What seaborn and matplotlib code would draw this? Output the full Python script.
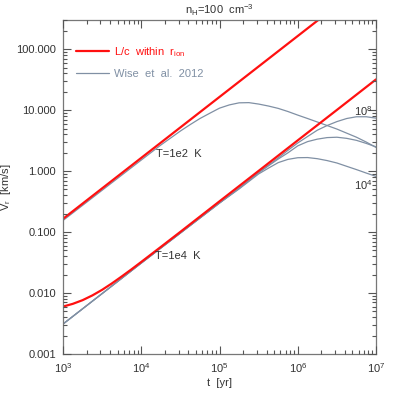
import numpy as np
import pandas as pd
import matplotlib
matplotlib.use("Agg")
import matplotlib.pyplot as plt
import matplotlib.ticker as mticker
import seaborn as sns

# 读图得到的数据: log10(t/yr) 与 V (km/s)
logt_red_up = [3.0, 7.0]
v_red_up = [0.165, 1650.0]

logt_red_lo = [3.0, 3.125, 3.25, 3.375, 3.5, 3.625, 3.75, 3.875, 4.0, 4.25, 4.5, 5.0, 5.5, 6.0, 6.5, 7.0]
v_red_lo = [0.0060, 0.00665, 0.00764, 0.00914, 0.0113, 0.0144, 0.0187, 0.0245, 0.0324, 0.0571,
            0.101, 0.32, 1.01, 3.2, 10.1, 32.0]

logt_t2 = [3.0, 4.0, 4.25, 4.5, 4.625, 4.75, 4.875, 5.0, 5.125, 5.25, 5.375, 5.5, 5.625, 5.75,
           5.875, 6.0, 6.125, 6.25, 6.375, 6.5, 6.625, 6.75, 6.875, 7.0]
v_t2 = [0.155, 1.52, 2.68, 4.55, 5.8, 7.3, 8.9, 10.8, 12.2, 13.2, 13.3, 12.6, 11.7, 10.7,
        9.5, 8.3, 7.3, 6.4, 5.6, 4.9, 4.2, 3.6, 3.0, 2.45]

logt_lo = [3.0, 4.0, 5.0, 5.25, 5.5, 5.625, 5.75, 5.875, 6.0, 6.125, 6.25, 6.375, 6.5, 6.625,
           6.75, 6.875, 7.0]
v_m8 = [0.0031, 0.031, 0.30, 0.53, 0.95, 1.25, 1.65, 2.2, 2.9, 3.7, 4.7, 5.6, 6.5, 7.3,
        7.8, 7.8, 7.4]
v_m6 = [0.0031, 0.031, 0.30, 0.52, 0.94, 1.22, 1.58, 2.0, 2.6, 3.05, 3.35, 3.55, 3.6, 3.45,
        3.2, 2.85, 2.5]
v_m4 = [0.0031, 0.031, 0.30, 0.51, 0.90, 1.12, 1.38, 1.56, 1.66, 1.67, 1.6, 1.49, 1.36, 1.2,
        1.06, 0.93, 0.82]

red = '#ff1010'
grey = '#8090a4'
ink = '#333333'

sns.set_style('ticks')
plt.rcParams['font.family'] = ['Liberation Sans', 'DejaVu Sans']
plt.rcParams['mathtext.fontset'] = 'custom'
plt.rcParams['mathtext.rm'] = 'Liberation Sans'
plt.rcParams['mathtext.it'] = 'Liberation Sans'
plt.rcParams.update({
    'axes.axisbelow': False,
    'xtick.direction': 'in', 'ytick.direction': 'in',
    'xtick.top': True, 'ytick.right': True,
    'xtick.major.size': 6, 'ytick.major.size': 6,
    'xtick.minor.size': 3, 'ytick.minor.size': 3,
    'xtick.major.width': 0.8, 'ytick.major.width': 0.8,
    'xtick.minor.width': 0.8, 'ytick.minor.width': 0.8,
    'xtick.color': '#555555', 'ytick.color': '#555555',
    'xtick.labelcolor': ink, 'ytick.labelcolor': ink,
    'xtick.minor.visible': True, 'ytick.minor.visible': True,
})

fig = plt.figure(figsize=(3.95, 3.95), dpi=100)
ax = fig.add_axes([0.1595, 0.1038, 0.7925, 0.8452])
ax.set_xscale('log')
ax.set_yscale('log')

# Wise et al. 2012 曲线
sns.lineplot(x=10 ** np.array(logt_t2), y=v_t2, ax=ax, color=grey, lw=0.9, sort=False, estimator=None)
for v in [v_m8, v_m6, v_m4]:
    sns.lineplot(x=10 ** np.array(logt_lo), y=v, ax=ax, color=grey, lw=0.9, sort=False, estimator=None)

# L/c within r_ion
sns.lineplot(x=10 ** np.array(logt_red_up), y=v_red_up, ax=ax, color=red, lw=1.6, sort=False, estimator=None)
sns.lineplot(x=10 ** np.array(logt_red_lo), y=v_red_lo, ax=ax, color=red, lw=1.6, sort=False, estimator=None)

ax.set_xlim(1e3, 1e7)
ax.set_ylim(1e-3, 300)
ax.set_axisbelow(False)

ax.yaxis.set_major_locator(mticker.LogLocator(base=10, numticks=10))
ax.yaxis.set_major_formatter(mticker.FuncFormatter(lambda v, p: f'{v:.3f}'))
ax.xaxis.set_major_formatter(mticker.LogFormatterMathtext())
ax.xaxis.set_minor_locator(mticker.LogLocator(base=10, subs=np.arange(2, 10), numticks=20))
ax.yaxis.set_minor_locator(mticker.LogLocator(base=10, subs=np.arange(2, 10), numticks=20))
ax.xaxis.set_minor_formatter(mticker.NullFormatter())
ax.yaxis.set_minor_formatter(mticker.NullFormatter())

ax.tick_params(which='both', direction='in', top=True, right=True, labelsize=8)
ax.tick_params(which='major', pad=5)
for s in ax.spines.values():
    s.set_color('#777777')
    s.set_linewidth(0.9)

ax.set_xlabel('t  [yr]', fontsize=8, color=ink, labelpad=2)
ax.set_ylabel(r'V$_r$  [km/s]', fontsize=8, color=ink, labelpad=2)
ax.set_title(r'n$_H$=100  cm$^{-3}$', fontsize=8, color=ink, pad=4)

# 图例
ax.plot([], [], color=red, lw=1.6, label=r'L/c  within  r$_{ion}$')
ax.plot([], [], color=grey, lw=0.9, label='Wise  et  al.  2012')
h, l = ax.get_legend_handles_labels()
leg = ax.legend(h[-2:], l[-2:], loc='upper left', bbox_to_anchor=(0.01, 0.955),
                frameon=False, fontsize=8, handlelength=3.0, handletextpad=0.4,
                labelspacing=0.9, labelcolor=[red, grey])

ax.text(1.55e4, 1.9, 'T=1e2  K', fontsize=8, color=ink, va='center')
ax.text(1.5e4, 0.04, 'T=1e4  K', fontsize=8, color=ink, va='center')
ax.text(6.8e6, 9.6, r'10$^8$', fontsize=8, color=ink, va='center', ha='center')
ax.text(6.8e6, 0.59, r'10$^4$', fontsize=8, color=ink, va='center', ha='center')

fig.savefig('out.png', dpi=100)
